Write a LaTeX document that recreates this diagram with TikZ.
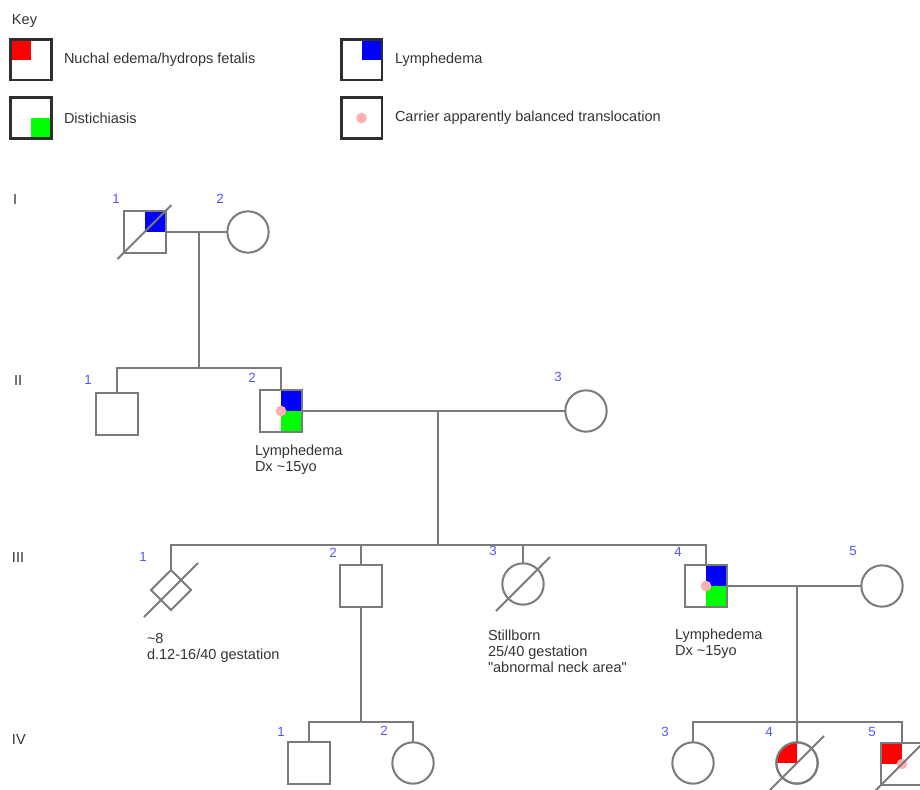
\documentclass[tikz,border=0pt]{standalone}
\usepackage{fontspec}
\setmainfont{Liberation Sans}[Ligatures=TeXOff]
\usetikzlibrary{shapes.geometric}
\definecolor{ln}{HTML}{7A7A7A}
\definecolor{keyc}{HTML}{2E2E2E}
\definecolor{txt}{HTML}{333333}
\definecolor{num}{RGB}{85,85,255}
\definecolor{pinkdot}{HTML}{FFAFAF}
\definecolor{lyblue}{HTML}{0000FF}
\definecolor{disgreen}{HTML}{00FF00}
\definecolor{nured}{HTML}{FF0000}
\begin{document}
\begin{tikzpicture}[x=0.75pt,y=-0.75pt,
  line width=1.5pt,
  every node/.style={font=\fontsize{10.9}{12}\selectfont, text=txt, inner sep=0pt, outer sep=0pt},
  sq/.style={draw=ln, line width=1.5pt, fill=white, rectangle, minimum size=31.5pt},
  ci/.style={draw=ln, line width=1.5pt, fill=white, circle, minimum size=31pt},
  dia/.style={draw=ln, line width=1.5pt, fill=white, diamond, minimum width=30pt, minimum height=30pt},
  keybox/.style={draw=keyc, line width=2pt, fill=white, rectangle, minimum size=30.5pt},
  lbl/.style={anchor=west},
  multi/.style={anchor=north west, align=left},
  idn/.style={text=num, font=\fontsize{10}{11}\selectfont},
  gen/.style={anchor=west},
  conn/.style={draw=ln, line width=1.5pt},
  slash/.style={draw=ln, line width=1.5pt}
]
\useasboundingbox (0,0) rectangle (920,789);

% ---------- Key ----------
\node[lbl] (keyt) at (12,21) {Key};
\node[keybox] (k1) at (31,59.5) {};
\fill[nured] (k1.center) rectangle (k1.north west);
\draw[keyc, line width=2pt] (k1.south west) rectangle (k1.north east);
\node[lbl] (k1t) at (64,60) {Nuchal edema/hydrops fetalis};

\node[keybox] (k2) at (31,118) {};
\fill[disgreen] (k2.center) rectangle (k2.south east);
\draw[keyc, line width=2pt] (k2.south west) rectangle (k2.north east);
\node[lbl] (k2t) at (64,118) {Distichiasis};

\node[keybox] (k3) at (361.5,59.5) {};
\fill[lyblue] (k3.center) rectangle (k3.north east);
\draw[keyc, line width=2pt] (k3.south west) rectangle (k3.north east);
\node[lbl] (k3t) at (395,60) {Lymphedema};

\node[keybox] (k4) at (361.5,118) {};
\fill[pinkdot] (k4.center) circle[radius=4pt];
\node[lbl] (k4t) at (395,118) {Carrier apparently balanced translocation};

% ---------- Generation labels ----------
\node[gen] (gI) at (13,199) {I};
\node[gen] (gII) at (14,380) {II};
\node[gen] (gIII) at (12,557) {III};
\node[gen] (gIV) at (12,739) {IV};

% ---------- Generation I ----------
\node[sq] (I1) at (144.5,232) {};
\fill[lyblue] (I1.center) rectangle (I1.north east);
\draw[ln] (I1.south west) rectangle (I1.north east);
\draw[slash] (I1.center) +(-27,27) -- +(27,-27);
\node[ci] (I2) at (248,232) {};
\node[idn] (nI1) at (116,199) {1};
\node[idn] (nI2) at (220,199) {2};

% ---------- Generation II ----------
\node[sq] (II1) at (117,413.5) {};
\node[sq] (II2) at (281,411) {};
\fill[lyblue] (II2.center) rectangle (II2.north east);
\fill[disgreen] (II2.center) rectangle (II2.south east);
\draw[ln] (II2.south west) rectangle (II2.north east);
\fill[pinkdot] (II2.center) circle[radius=4pt];
\node[ci] (II3) at (586,411) {};
\node[idn] (nII1) at (88,380) {1};
\node[idn] (nII2) at (252,378) {2};
\node[idn] (nII3) at (558,377) {3};
\node[multi] (tII2) at (255,445) {Lymphedema\\Dx \textasciitilde15yo};

% ---------- Generation III ----------
\node[dia] (III1) at (171,590) {};
\draw[slash] (III1.center) +(-27,27) -- +(27,-27);
\node[sq] (III2) at (361,585.5) {};
\node[ci] (III3) at (523,584) {};
\draw[slash] (III3.center) +(-27,27) -- +(27,-27);
\node[sq] (III4) at (706,586) {};
\fill[lyblue] (III4.center) rectangle (III4.north east);
\fill[disgreen] (III4.center) rectangle (III4.south east);
\draw[ln] (III4.south west) rectangle (III4.north east);
\fill[pinkdot] (III4.center) circle[radius=4pt];
\node[ci] (III5) at (882,586) {};
\node[idn] (nIII1) at (143,557) {1};
\node[idn] (nIII2) at (333,553) {2};
\node[idn] (nIII3) at (493,551) {3};
\node[idn] (nIII4) at (678,552) {4};
\node[idn] (nIII5) at (853,551) {5};
\node[multi] (tIII1) at (147,633) {\textasciitilde8\\d.12-16/40 gestation};
\node[multi] (tIII3) at (488,630) {Stillborn\\25/40 gestation\\"abnormal neck area"};
\node[multi] (tIII4) at (675,629) {Lymphedema\\Dx \textasciitilde15yo};

% ---------- Generation IV ----------
\node[sq] (IV1) at (309,763) {};
\node[ci] (IV2) at (413,763) {};
\node[ci] (IV3) at (693,763) {};
\node[ci] (IV4) at (797,763) {};
\begin{scope}
  \clip (IV4.center) circle[radius=15.5pt];
  \fill[nured] (IV4.center) rectangle ([xshift=-16pt,yshift=16pt]IV4.center);
\end{scope}
\draw[ln] (IV4.center) circle[radius=15.5pt];
\draw[slash] (IV4.center) +(-27,27) -- +(27,-27);
\node[sq] (IV5) at (902,764) {};
\fill[nured] (IV5.center) rectangle (IV5.north west);
\draw[ln] (IV5.south west) rectangle (IV5.north east);
\fill[pinkdot] (IV5.center) circle[radius=4pt];
\draw[slash] (IV5.center) +(-27,27) -- +(27,-27);
\node[idn] (nIV1) at (281,732) {1};
\node[idn] (nIV2) at (384,731) {2};
\node[idn] (nIV3) at (665,732) {3};
\node[idn] (nIV4) at (769,732) {4};
\node[idn] (nIV5) at (872,732) {5};

% ---------- Connectors ----------
\coordinate (m1) at (199,232);
\coordinate (s1) at (199,368);
\draw[conn] (I1.east) -- (I2.west);
\draw[conn] (m1) -- (s1);
\draw[conn] (II1.north) -- (II1.north |- s1) -- (II2.north |- s1) -- (II2.north);

\coordinate (m2) at (438,411);
\coordinate (s2) at (438,545);
\draw[conn] (II2.east) -- (II3.west);
\draw[conn] (m2) -- (s2);
\draw[conn] (III1.north) -- (III1.north |- s2) -- (III4.north |- s2) -- (III4.north);
\draw[conn] (III2.north) -- (III2.north |- s2);
\draw[conn] (III3.north) -- (III3.north |- s2);

\coordinate (s3) at (361,722);
\draw[conn] (III2.south) -- (s3);
\draw[conn] (IV1.north) -- (IV1.north |- s3) -- (IV2.north |- s3) -- (IV2.north);

\coordinate (m3) at (797,586);
\coordinate (s4) at (797,722);
\draw[conn] (III4.east) -- (III5.west);
\draw[conn] (m3) -- (s4);
\draw[conn] (IV3.north) -- (IV3.north |- s4) -- (IV5.north |- s4) -- (IV5.north);
\draw[conn] (IV4.north) -- (IV4.north |- s4);
\end{tikzpicture}
\end{document}
